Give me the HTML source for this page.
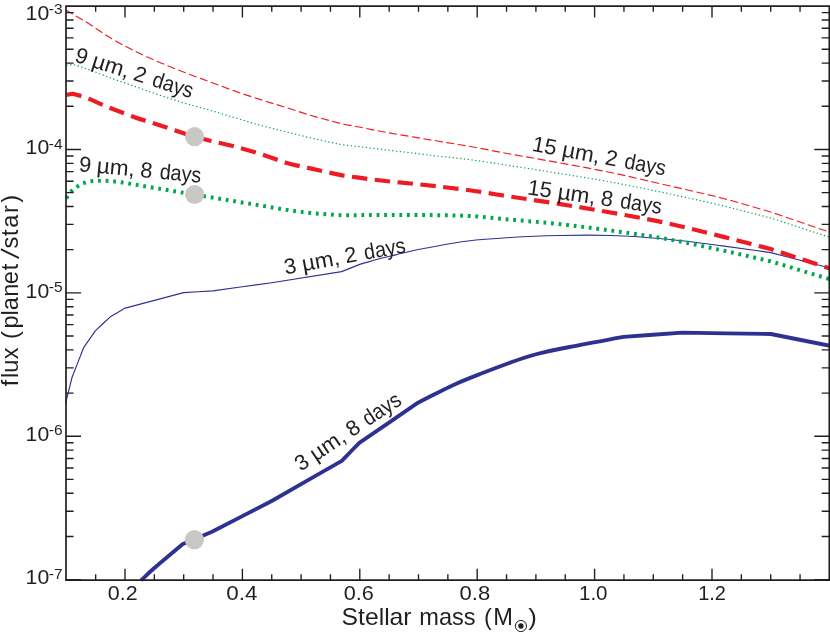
<!DOCTYPE html>
<html><head><meta charset="utf-8"><title>flux vs stellar mass</title>
<style>
html,body{margin:0;padding:0;background:#fff;}
body{width:830px;height:634px;overflow:hidden;font-family:"Liberation Sans",sans-serif;}
svg{display:block;}
</style></head><body>
<svg width="830" height="634" viewBox="0 0 830 634">
<rect width="830" height="634" fill="#fff"/>
<g fill="none" stroke-linejoin="round">
<path d="M65.50 403.60 C67.67 394.90 69.83 386.20 72.00 377.50 C75.87 367.57 79.73 357.63 83.60 347.70 C87.57 342.03 91.53 336.37 95.50 330.70 C100.43 326.07 105.37 321.43 110.30 316.80 C115.23 313.90 120.17 311.00 125.10 308.10 C144.60 302.93 164.10 297.77 183.60 292.60 C193.37 292.03 203.13 291.47 212.90 290.90 C232.50 288.17 252.10 285.43 271.70 282.70 C295.00 279.00 318.30 275.30 341.60 271.60 C347.87 269.10 354.13 266.60 360.40 264.10 C368.77 261.83 377.13 259.45 385.50 257.30 C396.37 254.51 407.23 252.10 418.10 249.50 C434.73 246.67 451.37 243.05 468.00 241.00 C482.07 239.27 496.13 238.39 510.20 237.50 C526.93 236.44 543.67 235.83 560.40 235.50 C577.13 235.17 593.87 234.98 610.60 235.50 C629.73 236.09 648.87 237.49 668.00 239.30 C686.13 241.01 704.27 243.53 722.40 245.90 C738.50 248.00 754.60 250.37 770.70 252.60 C790.47 257.73 810.23 262.87 830.00 268.00" stroke="#2e3192" stroke-width="1.15" />
<path d="M141.00 580.40 C145.23 576.43 149.47 572.28 153.70 568.50 C158.43 564.27 163.17 560.47 167.90 556.50 C172.87 552.33 177.83 548.23 182.80 544.10 C192.53 540.00 202.27 535.90 212.00 531.80 C231.90 521.53 251.80 511.27 271.70 501.00 C295.07 487.60 318.43 474.20 341.80 460.80 C347.63 454.83 353.47 448.87 359.30 442.90 C378.87 429.50 398.43 416.10 418.00 402.70 C430.57 396.43 443.13 389.47 455.70 383.90 C463.80 380.31 471.90 377.17 480.00 374.00 C498.40 366.81 516.80 359.57 535.20 354.50 C550.27 350.34 565.33 347.89 580.40 344.90 C594.77 342.05 609.13 339.57 623.50 336.90 C643.13 335.47 662.77 334.03 682.40 332.60 C711.90 333.07 741.40 333.53 770.90 334.00 C790.60 337.93 810.30 341.87 830.00 345.80" stroke="#2e3192" stroke-width="3.85" />
<path d="M66.30 65.20 C68.37 65.03 70.43 64.61 72.50 64.70 C76.67 64.87 80.83 66.98 85.00 68.30 C93.40 70.97 101.80 74.74 110.20 77.80 C118.57 80.84 126.93 83.67 135.30 86.60 C143.67 89.53 152.03 92.60 160.40 95.40 C168.77 98.20 177.13 100.90 185.50 103.40 C193.87 105.90 202.23 107.97 210.60 110.40 C218.97 112.83 227.33 115.49 235.70 118.00 C243.80 120.43 251.90 122.98 260.00 125.20 C268.33 127.49 276.67 129.41 285.00 131.50 C293.40 133.61 301.80 135.82 310.20 137.80 C320.87 140.32 331.53 142.47 342.20 144.80 C348.27 145.47 354.33 146.10 360.40 146.80 C368.77 147.77 377.13 148.90 385.50 149.90 C393.87 150.90 402.23 151.80 410.60 152.80 C418.97 153.80 427.33 154.94 435.70 155.90 C445.13 156.99 454.57 157.75 464.00 158.90 C479.40 160.77 494.80 163.36 510.20 165.70 C526.93 168.24 543.67 170.88 560.40 173.60 C577.13 176.32 593.87 178.93 610.60 182.00 C630.40 185.63 650.20 189.78 670.00 194.00 C687.47 197.73 704.93 201.51 722.40 205.70 C738.50 209.56 754.60 213.90 770.70 218.00 C790.47 224.47 810.23 230.93 830.00 237.40" stroke="#00a651" stroke-width="1.2" stroke-dasharray="1.3 2.5" />
<path d="M66.30 198.20 C67.97 195.93 69.63 193.25 71.30 191.40 C73.40 189.07 75.50 187.80 77.60 186.40 C80.07 184.76 82.53 183.52 85.00 182.60 C89.20 181.03 93.40 181.15 97.60 180.90 C101.80 180.65 106.00 180.81 110.20 181.10 C114.37 181.38 118.53 182.02 122.70 182.60 C126.90 183.19 131.10 183.92 135.30 184.60 C143.67 185.96 152.03 187.48 160.40 188.90 C171.87 190.85 183.33 192.85 194.80 194.70 C200.07 195.55 205.33 196.35 210.60 197.20 C218.97 198.55 227.33 200.01 235.70 201.40 C245.07 202.95 254.43 204.43 263.80 206.00 C270.87 207.18 277.93 208.53 285.00 209.60 C293.40 210.88 301.80 212.00 310.20 212.90 C320.87 214.05 331.53 214.57 342.20 215.40 C356.63 215.23 371.07 214.95 385.50 214.90 C402.23 214.84 418.97 214.94 435.70 215.20 C446.47 215.37 457.23 215.36 468.00 215.90 C482.07 216.61 496.13 218.34 510.20 219.60 C526.93 221.10 543.67 222.38 560.40 224.20 C577.13 226.02 593.87 228.19 610.60 230.50 C630.40 233.24 650.20 236.01 670.00 239.60 C687.47 242.77 704.93 246.62 722.40 250.40 C738.50 253.88 754.60 257.67 770.70 261.30 C790.13 267.20 809.57 273.10 829.00 279.00" stroke="#00a651" stroke-width="4.0" stroke-dasharray="2.8 4.8" />
<path d="M65.90 10.10 C72.27 13.83 78.63 17.39 85.00 21.30 C93.33 26.42 101.67 32.61 110.00 37.60 C118.43 42.65 126.87 47.20 135.30 51.40 C143.67 55.56 152.03 59.13 160.40 62.70 C168.77 66.27 177.13 69.57 185.50 72.80 C193.87 76.03 202.23 79.00 210.60 82.10 C218.97 85.20 227.33 88.47 235.70 91.40 C244.63 94.53 253.57 97.35 262.50 100.20 C270.00 102.59 277.50 104.84 285.00 107.20 C293.40 109.84 301.80 112.69 310.20 115.20 C320.87 118.39 331.53 121.07 342.20 124.00 C348.27 125.10 354.33 126.15 360.40 127.30 C368.77 128.88 377.13 130.77 385.50 132.30 C393.87 133.83 402.23 135.08 410.60 136.50 C418.97 137.92 427.33 139.41 435.70 140.80 C443.80 142.14 451.90 143.33 460.00 144.70 C476.73 147.52 493.47 150.95 510.20 154.00 C526.93 157.05 543.67 159.92 560.40 163.00 C577.13 166.08 593.87 169.04 610.60 172.50 C630.40 176.59 650.20 181.44 670.00 186.00 C687.47 190.02 704.93 193.65 722.40 198.20 C738.50 202.39 754.60 207.40 770.70 212.00 C790.47 218.77 810.23 225.53 830.00 232.30" stroke="#ed1c24" stroke-width="1.15" stroke-dasharray="8.1 3.5" />
<path d="M66.30 94.90 C68.37 94.57 70.43 93.82 72.50 93.90 C74.60 93.98 76.70 94.84 78.80 95.40 C89.27 98.18 99.73 103.96 110.20 108.00 C118.57 111.23 126.93 114.48 135.30 117.40 C143.67 120.32 152.03 122.78 160.40 125.50 C171.87 129.23 183.33 133.47 194.80 136.80 C208.43 140.76 222.07 143.08 235.70 146.80 C245.47 149.47 255.23 152.21 265.00 155.40 C271.67 157.58 278.33 160.40 285.00 162.40 C293.40 164.92 301.80 166.47 310.20 168.40 C320.87 170.85 331.53 173.07 342.20 175.40 C348.27 176.23 354.33 177.10 360.40 177.90 C368.77 179.00 377.13 180.07 385.50 181.00 C393.87 181.93 402.23 182.63 410.60 183.50 C418.97 184.37 427.33 185.26 435.70 186.20 C446.47 187.41 457.23 188.55 468.00 190.00 C482.07 191.89 496.13 194.44 510.20 196.60 C526.93 199.16 543.67 201.45 560.40 204.10 C577.13 206.75 593.87 209.54 610.60 212.50 C629.07 215.77 647.53 218.93 666.00 222.90 C684.80 226.94 703.60 231.89 722.40 236.60 C738.50 240.63 754.60 244.87 770.70 249.00 C790.47 255.50 810.23 262.00 830.00 268.50" stroke="#ed1c24" stroke-width="4.2" stroke-dasharray="15.45 7.5" />
</g>
<circle cx="194.6" cy="136.7" r="9.6" fill="#c9c8c4"/>
<circle cx="194.6" cy="194.5" r="9.6" fill="#c9c8c4"/>
<circle cx="194.4" cy="539.7" r="9.6" fill="#c9c8c4"/>
<g stroke="#231f20" fill="none">
<path d="M66.00 6.05 H829.30 V580.15 H66.00 Z" stroke-width="1.7"/>
<path d="M95.65 580.15 v-5.80 M95.65 6.05 v5.80 M125.00 580.15 v-11.50 M125.00 6.05 v11.50 M154.35 580.15 v-5.80 M154.35 6.05 v5.80 M183.70 580.15 v-5.80 M183.70 6.05 v5.80 M213.05 580.15 v-5.80 M213.05 6.05 v5.80 M242.40 580.15 v-11.50 M242.40 6.05 v11.50 M271.75 580.15 v-5.80 M271.75 6.05 v5.80 M301.10 580.15 v-5.80 M301.10 6.05 v5.80 M330.45 580.15 v-5.80 M330.45 6.05 v5.80 M359.80 580.15 v-11.50 M359.80 6.05 v11.50 M389.15 580.15 v-5.80 M389.15 6.05 v5.80 M418.50 580.15 v-5.80 M418.50 6.05 v5.80 M447.85 580.15 v-5.80 M447.85 6.05 v5.80 M477.20 580.15 v-11.50 M477.20 6.05 v11.50 M506.55 580.15 v-5.80 M506.55 6.05 v5.80 M535.90 580.15 v-5.80 M535.90 6.05 v5.80 M565.25 580.15 v-5.80 M565.25 6.05 v5.80 M594.60 580.15 v-11.50 M594.60 6.05 v11.50 M623.95 580.15 v-5.80 M623.95 6.05 v5.80 M653.30 580.15 v-5.80 M653.30 6.05 v5.80 M682.65 580.15 v-5.80 M682.65 6.05 v5.80 M712.00 580.15 v-11.50 M712.00 6.05 v11.50 M741.35 580.15 v-5.80 M741.35 6.05 v5.80 M770.70 580.15 v-5.80 M770.70 6.05 v5.80 M800.05 580.15 v-5.80 M800.05 6.05 v5.80 M66.00 579.65 h15.00 M829.30 579.65 h-15.00 M66.00 536.48 h7.60 M829.30 536.48 h-7.60 M66.00 511.23 h7.60 M829.30 511.23 h-7.60 M66.00 493.31 h7.60 M829.30 493.31 h-7.60 M66.00 479.42 h7.60 M829.30 479.42 h-7.60 M66.00 468.06 h7.60 M829.30 468.06 h-7.60 M66.00 458.46 h7.60 M829.30 458.46 h-7.60 M66.00 450.15 h7.60 M829.30 450.15 h-7.60 M66.00 442.81 h7.60 M829.30 442.81 h-7.60 M66.00 436.25 h15.00 M829.30 436.25 h-15.00 M66.00 393.08 h7.60 M829.30 393.08 h-7.60 M66.00 367.83 h7.60 M829.30 367.83 h-7.60 M66.00 349.91 h7.60 M829.30 349.91 h-7.60 M66.00 336.02 h7.60 M829.30 336.02 h-7.60 M66.00 324.66 h7.60 M829.30 324.66 h-7.60 M66.00 315.06 h7.60 M829.30 315.06 h-7.60 M66.00 306.75 h7.60 M829.30 306.75 h-7.60 M66.00 299.41 h7.60 M829.30 299.41 h-7.60 M66.00 292.85 h15.00 M829.30 292.85 h-15.00 M66.00 249.68 h7.60 M829.30 249.68 h-7.60 M66.00 224.43 h7.60 M829.30 224.43 h-7.60 M66.00 206.51 h7.60 M829.30 206.51 h-7.60 M66.00 192.62 h7.60 M829.30 192.62 h-7.60 M66.00 181.26 h7.60 M829.30 181.26 h-7.60 M66.00 171.66 h7.60 M829.30 171.66 h-7.60 M66.00 163.35 h7.60 M829.30 163.35 h-7.60 M66.00 156.01 h7.60 M829.30 156.01 h-7.60 M66.00 149.45 h15.00 M829.30 149.45 h-15.00 M66.00 106.28 h7.60 M829.30 106.28 h-7.60 M66.00 81.03 h7.60 M829.30 81.03 h-7.60 M66.00 63.11 h7.60 M829.30 63.11 h-7.60 M66.00 49.22 h7.60 M829.30 49.22 h-7.60 M66.00 37.86 h7.60 M829.30 37.86 h-7.60 M66.00 28.26 h7.60 M829.30 28.26 h-7.60 M66.00 19.95 h7.60 M829.30 19.95 h-7.60 M66.00 12.61 h7.60 M829.30 12.61 h-7.60" stroke-width="1.38"/>
</g>
<g font-family="'Liberation Sans', sans-serif" fill="#231f20" style="will-change:transform">
<text x="25.60" y="19.80" font-size="20.00" textLength="23.60" lengthAdjust="spacingAndGlyphs">10</text>
<text x="48.80" y="14.40" font-size="15.40" textLength="13.80" lengthAdjust="spacingAndGlyphs">-3</text>
<text x="25.60" y="154.30" font-size="20.00" textLength="23.60" lengthAdjust="spacingAndGlyphs">10</text>
<text x="48.80" y="148.90" font-size="15.40" textLength="13.80" lengthAdjust="spacingAndGlyphs">-4</text>
<text x="25.60" y="297.80" font-size="20.00" textLength="23.60" lengthAdjust="spacingAndGlyphs">10</text>
<text x="48.80" y="292.40" font-size="15.40" textLength="13.80" lengthAdjust="spacingAndGlyphs">-5</text>
<text x="25.60" y="440.70" font-size="20.00" textLength="23.60" lengthAdjust="spacingAndGlyphs">10</text>
<text x="48.80" y="435.30" font-size="15.40" textLength="13.80" lengthAdjust="spacingAndGlyphs">-6</text>
<text x="25.60" y="584.00" font-size="20.00" textLength="23.60" lengthAdjust="spacingAndGlyphs">10</text>
<text x="48.80" y="578.60" font-size="15.40" textLength="13.80" lengthAdjust="spacingAndGlyphs">-7</text>
<text x="122.75" y="599.70" font-size="20.00" text-anchor="middle" textLength="29.79" lengthAdjust="spacingAndGlyphs">0.2</text>
<text x="241.90" y="599.70" font-size="20.00" text-anchor="middle" textLength="31.16" lengthAdjust="spacingAndGlyphs">0.4</text>
<text x="358.80" y="599.70" font-size="20.00" text-anchor="middle" textLength="30.10" lengthAdjust="spacingAndGlyphs">0.6</text>
<text x="474.95" y="599.70" font-size="20.00" text-anchor="middle" textLength="30.63" lengthAdjust="spacingAndGlyphs">0.8</text>
<text x="593.25" y="599.70" font-size="20.00" text-anchor="middle" textLength="28.51" lengthAdjust="spacingAndGlyphs">1.0</text>
<text x="712.10" y="599.70" font-size="20.00" text-anchor="middle" textLength="27.77" lengthAdjust="spacingAndGlyphs">1.2</text>
<text x="341.60" y="625.30" font-size="23.60" textLength="70.00" lengthAdjust="spacingAndGlyphs">Stellar</text>
<text x="419.30" y="625.30" font-size="23.60">mass</text>
<text x="484.00" y="625.30" font-size="23.60">(</text>
<text x="493.15" y="625.30" font-size="23.60">M</text>
<circle cx="520.9" cy="626.0" r="5.6" fill="none" stroke="#231f20" stroke-width="1.0"/>
<circle cx="520.9" cy="626.0" r="2.65" fill="#231f20"/>
<text x="528.20" y="625.30" font-size="23.60" textLength="8.60" lengthAdjust="spacingAndGlyphs">)</text>
<text transform="translate(18.30 390.00) rotate(-90.00)" font-size="23.60" x="3.72 11.95 17.20 30.84 50.96 61.41 74.40 79.87 93.30 105.65 119.69 141.41 154.04 162.17 177.07 187.25" y="0">flux(planetstar)</text>
<text transform="translate(9.9 253.7) rotate(-79.4) translate(-3.67 9.46)" font-size="26.43">/</text>
<g transform="translate(79.30 171.30) rotate(5.30)" font-size="21.80">
<text x="-0.90" y="0">9</text>
<text x="17.00" y="0" textLength="38.10" lengthAdjust="spacingAndGlyphs">µm,</text>
<text x="60.60" y="0">8</text>
<text x="80.20" y="0" textLength="41.70" lengthAdjust="spacingAndGlyphs">days</text>
</g>
<g transform="translate(74.60 61.50) rotate(17.60)" font-size="21.80">
<text x="-0.90" y="0">9</text>
<text x="17.00" y="0" textLength="38.10" lengthAdjust="spacingAndGlyphs">µm,</text>
<text x="60.60" y="0">2</text>
<text x="80.20" y="0" textLength="41.70" lengthAdjust="spacingAndGlyphs">days</text>
</g>
<g transform="translate(286.50 274.30) rotate(-10.40)" font-size="21.80">
<text x="-0.90" y="0">3</text>
<text x="17.00" y="0" textLength="38.10" lengthAdjust="spacingAndGlyphs">µm,</text>
<text x="60.60" y="0">2</text>
<text x="80.20" y="0" textLength="41.70" lengthAdjust="spacingAndGlyphs">days</text>
</g>
<g transform="translate(301.60 471.20) rotate(-33.80)" font-size="21.80">
<text x="-0.90" y="0">3</text>
<text x="17.00" y="0" textLength="38.10" lengthAdjust="spacingAndGlyphs">µm,</text>
<text x="60.60" y="0">8</text>
<text x="80.20" y="0" textLength="41.70" lengthAdjust="spacingAndGlyphs">days</text>
</g>
<g transform="translate(532.80 151.00) rotate(10.60)" font-size="21.80">
<text x="-1.60" y="0" textLength="24.50" lengthAdjust="spacingAndGlyphs">15</text>
<text x="29.00" y="0" textLength="38.10" lengthAdjust="spacingAndGlyphs">µm,</text>
<text x="72.60" y="0">2</text>
<text x="92.20" y="0" textLength="41.70" lengthAdjust="spacingAndGlyphs">days</text>
</g>
<g transform="translate(528.30 194.40) rotate(8.40)" font-size="21.80">
<text x="-1.60" y="0" textLength="24.50" lengthAdjust="spacingAndGlyphs">15</text>
<text x="29.00" y="0" textLength="38.10" lengthAdjust="spacingAndGlyphs">µm,</text>
<text x="72.60" y="0">8</text>
<text x="92.20" y="0" textLength="41.70" lengthAdjust="spacingAndGlyphs">days</text>
</g>
</g>
</svg>
</body></html>
